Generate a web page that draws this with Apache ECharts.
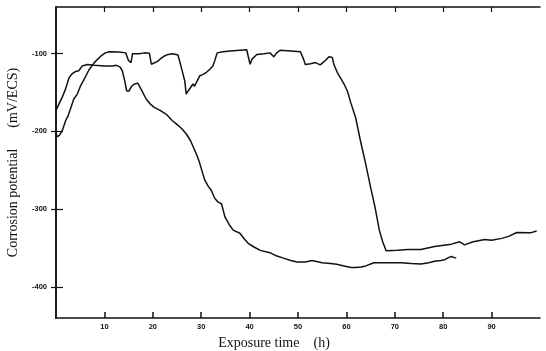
<!DOCTYPE html>
<html>
<head>
<meta charset="utf-8">
<title>Corrosion potential</title>
<script src="https://cdn.jsdelivr.net/npm/echarts@6/dist/echarts.min.js"></script>
<style>
  html, body { margin: 0; padding: 0; background: #fff; }
  #chart { width: 546px; height: 351px; }
</style>
</head>
<body>
<div id="chart"></div>
<script>
// curve that ends near 83 h
var timeA = [0, 0.6, 1.3, 2, 2.7, 3.3, 4, 4.7, 5.4, 6.5, 8, 10, 11.6, 12.5, 13.2, 13.7, 14.2, 14.6, 15.1, 15.6,
  16.2, 16.9, 17.6, 18.6, 19.5, 20.3, 21.5, 22.8, 24, 24.8, 25.9, 26.9, 27.8, 29, 29.6, 30.7, 31.4, 32.1, 32.8, 33.5,
  34.2, 34.9, 35.8, 36.6, 38, 39, 39.7, 41, 42.2, 44.2, 45.5, 47, 48.5, 49.8, 51.5, 52.9, 55, 56.7, 58, 59.5,
  61, 61.9, 63, 64, 65.7, 67.5, 69.2, 71.3, 73.4, 75.4, 77, 78.2, 79.5, 80.3, 81.2, 81.7, 82.2, 82.7];
var potA = [-173, -165, -156, -145, -131, -126, -123, -122, -116, -114, -115, -116, -116, -115, -117, -122, -135, -148, -148, -142,
  -139, -138, -146, -158, -165, -169, -173, -178, -186, -190, -196, -203, -212, -229, -239, -262, -270, -276, -286, -291,
  -293, -310, -320, -327, -331, -339, -344, -349, -353, -356, -360, -363, -366, -368, -368, -366, -369, -370, -371, -373,
  -375, -375, -374.5, -373, -369, -369, -369, -369, -370, -370.5, -369, -367, -366, -365, -362, -361, -362, -363];

// curve that runs to the end of the test
var timeB = [0, 0.2, 0.7, 1.3, 2, 2.5, 3, 3.7, 4.4, 5.1, 5.8, 6.8, 7.9, 9.3, 10.2, 11, 13, 14.4, 15, 15.5,
  15.8, 17.2, 18.3, 19.3, 19.7, 20, 21, 21.7, 22.4, 23.2, 24.1, 25.2, 25.9, 26.6, 26.9, 27.3, 27.6, 28.3, 28.6, 29,
  29.7, 30.3, 31.1, 31.8, 32.4, 32.8, 33.3, 34.5, 36, 38, 39.4, 40.1, 40.5, 41.5, 43, 44.2, 45, 45.6, 46.3, 48.5,
  50.5, 51.2, 51.5, 51.9, 52.6, 53.6, 54.6, 55.7, 56.4, 57.1, 57.4, 58.1, 59.5, 60.2, 60.9, 61.9, 62.9, 64, 65, 65.9,
  66.8, 67.5, 68.2, 70.6, 72.7, 75.4, 78.2, 81.7, 83.4, 84.4, 86.2, 88.6, 90, 92.1, 93.5, 95.2, 98, 99.3];
var potB = [-201, -207, -205, -199, -186, -180, -171, -158, -152, -141, -133, -121, -111.5, -103, -99, -97.5, -98, -99, -109, -111.5,
  -100, -100, -99, -99.5, -113.6, -111.5, -110, -106, -103, -101, -100, -101.7, -118, -135, -152, -148, -145.6, -139, -142, -141,
  -128.5, -127, -124, -120, -116, -109, -99, -97.5, -96.5, -95.6, -95, -113.6, -107, -101, -100, -99, -104, -99, -95.6, -96.5,
  -97.5, -108, -114, -116, -113, -111.5, -114.5, -108.5, -104, -105, -113.6, -124, -139, -148, -163, -182, -212, -242, -272, -297,
  -327, -342, -353.5, -353, -352, -352, -348, -345, -342, -346, -342, -339, -340, -337.6, -335, -330, -330.5, -328];

var xTicks = [10, 20, 30, 40, 50, 60, 70, 80, 90];
var yTicks = [-100, -200, -300, -400];

function pairs(xs, ys) {
  var out = [];
  for (var i = 0; i < xs.length; i++) out.push([xs[i], ys[i]]);
  return out;
}

var chart = echarts.init(document.getElementById('chart'));
var lineCol = '#111';
var tickLabel = { fontFamily: 'Liberation Sans', fontSize: 7.5, fontWeight: 'bold', color: '#111' };

chart.setOption({
  animation: false,
  grid: { left: 56, right: 6, top: 7, bottom: 33, outerBoundsMode: 'none' },
  xAxis: [{
    type: 'value', min: 0, max: 100, position: 'bottom',
    name: 'Exposure time    (h)', nameLocation: 'middle', nameGap: 18,
    nameTextStyle: { fontFamily: 'Liberation Serif', fontSize: 14, color: '#111', padding: [0, 48, 0, 0] },
    axisLine: { lineStyle: { color: lineCol, width: 1.5 } },
    axisTick: { inside: true, length: 6, lineStyle: { color: lineCol, width: 1.5 }, customValues: xTicks },
    axisLabel: Object.assign({ margin: 5, customValues: xTicks }, tickLabel),
    splitLine: { show: false }
  }, {
    type: 'value', min: 0, max: 100, position: 'top',
    axisLine: { lineStyle: { color: lineCol, width: 1.5 } },
    axisTick: { inside: true, length: 5, lineStyle: { color: lineCol, width: 1.2 }, customValues: xTicks },
    axisLabel: { show: false },
    splitLine: { show: false }
  }],
  yAxis: [{
    type: 'value', min: -440, max: -40, position: 'left',
    name: 'Corrosion potential      (mV/ECS)', nameLocation: 'middle', nameGap: 36,
    nameTextStyle: { fontFamily: 'Liberation Serif', fontSize: 14, color: '#111' },
    axisLine: { lineStyle: { color: lineCol, width: 1.5 } },
    axisTick: { inside: true, length: 7, lineStyle: { color: lineCol, width: 1.2 }, customValues: yTicks },
    axisLabel: Object.assign({ margin: 9, customValues: yTicks }, tickLabel),
    splitLine: { show: false }
  }, {
    type: 'value', min: -440, max: -40, position: 'right',
    axisLine: { show: true, lineStyle: { color: lineCol, width: 1.5 } },
    axisTick: { show: true, inside: true, length: 5, lineStyle: { color: lineCol, width: 1.2 }, customValues: yTicks },
    axisLabel: { show: false },
    splitLine: { show: false }
  }],
  series: [{
    type: 'line', data: pairs(timeA, potA), showSymbol: false, smooth: false,
    lineStyle: { color: lineCol, width: 1.5 }
  }, {
    type: 'line', data: pairs(timeB, potB), showSymbol: false, smooth: false,
    lineStyle: { color: lineCol, width: 1.5 }
  }]
});
</script>
</body>
</html>
